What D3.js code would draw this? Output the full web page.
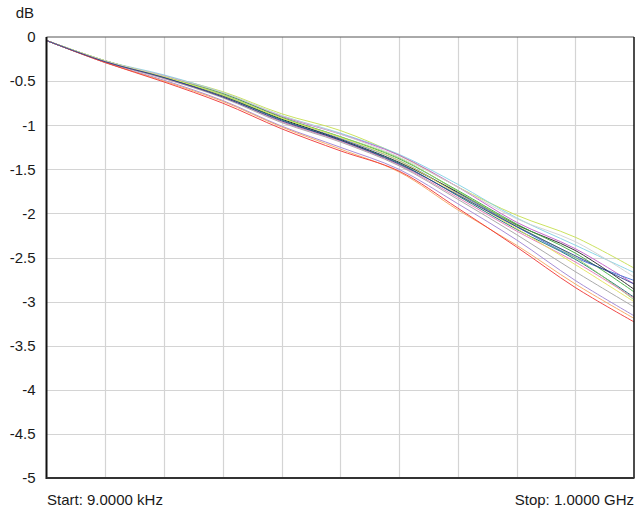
<!DOCTYPE html>
<html><head><meta charset="utf-8">
<script src="https://cdn.jsdelivr.net/npm/d3@7"></script>
<style>body{margin:0;background:#fff}svg{display:block}text{font-family:"Liberation Sans",Arial,sans-serif;font-size:15px;fill:#1a1a1a}</style>
</head><body><svg id="c" width="635" height="514"></svg>
<script>
const yTicks = [0,-0.5,-1,-1.5,-2,-2.5,-3,-3.5,-4,-4.5,-5];
const xDivs = [0,1,2,3,4,5,6,7,8,9,10];
const startLabel = "Start: 9.0000 kHz";
const stopLabel = "Stop: 1.0000 GHz";
const yUnit = "dB";
const seriesNames = ["yellowgreen","lightblue","magenta","blue","black","green","teal","lightgreen","pink","yellow","gray","lavender","orange","red","lightgray","navy"];
const seriesColors = ["#c5df4e","#7fd0e4","#c058c8","#3e6fd6","#222222","#3aa83a","#137070","#92d264","#e274b4","#e3e35a","#a2a2a2","#9c82d2","#f5a35e","#ee3434","#cfcfcf","#2c3d86"];
const sYellowGreen = [-0.04,-0.27,-0.44,-0.62,-0.87,-1.06,-1.34,-1.70,-2.02,-2.27,-2.62];
const sLightBlue   = [-0.04,-0.27,-0.43,-0.63,-0.89,-1.09,-1.33,-1.67,-2.05,-2.36,-2.67];
const sMagenta     = [-0.04,-0.28,-0.44,-0.64,-0.90,-1.10,-1.34,-1.70,-2.10,-2.40,-2.80];
const sBlue        = [-0.04,-0.28,-0.46,-0.66,-0.93,-1.15,-1.40,-1.77,-2.15,-2.50,-2.76];
const sBlack       = [-0.04,-0.28,-0.46,-0.67,-0.93,-1.16,-1.42,-1.76,-2.13,-2.42,-2.86];
const sGreen       = [-0.04,-0.27,-0.45,-0.64,-0.91,-1.13,-1.38,-1.74,-2.12,-2.45,-2.89];
const sTeal        = [-0.04,-0.28,-0.46,-0.67,-0.94,-1.17,-1.43,-1.80,-2.18,-2.52,-2.95];
const sLightGreen  = [-0.04,-0.27,-0.45,-0.65,-0.92,-1.13,-1.37,-1.75,-2.14,-2.50,-2.98];
const sPink        = [-0.04,-0.28,-0.47,-0.68,-0.96,-1.18,-1.45,-1.82,-2.20,-2.55,-2.96];
const sYellow      = [-0.04,-0.27,-0.45,-0.66,-0.92,-1.14,-1.40,-1.78,-2.17,-2.58,-3.00];
const sGray        = [-0.04,-0.28,-0.47,-0.69,-0.97,-1.19,-1.46,-1.84,-2.24,-2.66,-3.06];
const sLavender    = [-0.04,-0.29,-0.49,-0.72,-1.01,-1.25,-1.50,-1.89,-2.30,-2.76,-3.16];
const sOrange      = [-0.04,-0.29,-0.50,-0.73,-1.02,-1.27,-1.53,-1.96,-2.36,-2.80,-3.19];
const sRed         = [-0.04,-0.29,-0.51,-0.75,-1.04,-1.29,-1.52,-1.94,-2.38,-2.84,-3.23];
const sLightGray   = [-0.04,-0.27,-0.44,-0.63,-0.89,-1.10,-1.36,-1.70,-2.06,-2.32,-2.72];
const sNavy        = [-0.04,-0.28,-0.46,-0.68,-0.95,-1.17,-1.44,-1.79,-2.15,-2.48,-2.80];
const seriesValues = [sYellowGreen,sLightBlue,sMagenta,sBlue,sBlack,sGreen,sTeal,sLightGreen,sPink,sYellow,sGray,sLavender,sOrange,sRed,sLightGray,sNavy];

const L=46.5, R=634, T=37, B=478;
const svg = d3.select("#c");
const x = d3.scaleLinear().domain([0,10]).range([L,R]);
const y = d3.scaleLinear().domain([-5,0]).range([B,T]);

// grid
svg.append("g").selectAll("line").data(xDivs.slice(1,-1)).join("line")
  .attr("x1",d=>Math.round(x(d))+0.5).attr("x2",d=>Math.round(x(d))+0.5).attr("y1",T).attr("y2",B)
  .attr("stroke","#d4d4d4").attr("stroke-width",1.2);
svg.append("g").selectAll("line").data(yTicks.slice(1,-1)).join("line")
  .attr("y1",d=>Math.round(y(d))+0.5).attr("y2",d=>Math.round(y(d))+0.5).attr("x1",L).attr("x2",R)
  .attr("stroke","#d4d4d4").attr("stroke-width",1.2);

// y axis labels
const yAxis = d3.axisLeft(y).tickValues(yTicks).tickSize(0).tickPadding(11).tickFormat(d=>String(d));
const ga = svg.append("g").attr("transform",`translate(${L},0)`).call(yAxis);
ga.select(".domain").remove();
ga.selectAll("text").style("font-family","Liberation Sans, Arial, sans-serif").style("font-size","15px").attr("fill","#1a1a1a");

// lines
const line = d3.line().x((d,i)=>x(xDivs[i])).y(d=>y(d)).curve(d3.curveCatmullRom);
svg.append("g").selectAll("path").data(seriesValues).join("path")
  .attr("d",line).attr("fill","none")
  .attr("stroke",(d,i)=>seriesColors[i]).attr("stroke-width",1).attr("stroke-opacity",0.9);

// frame
svg.append("line").attr("x1",L).attr("x2",R).attr("y1",T).attr("y2",T).attr("stroke","#555").attr("stroke-width",1);
svg.append("line").attr("x1",R).attr("x2",R).attr("y1",T).attr("y2",B).attr("stroke","#111").attr("stroke-width",1.5);
svg.append("line").attr("x1",L).attr("x2",L).attr("y1",T).attr("y2",B+1).attr("stroke","#111").attr("stroke-width",2);
svg.append("line").attr("x1",L).attr("x2",R+0.5).attr("y1",B).attr("y2",B).attr("stroke","#333").attr("stroke-width",2);

svg.append("text").attr("x",34).attr("y",18).attr("text-anchor","end").text(yUnit);
svg.append("text").attr("x",47).attr("y",505).text(startLabel);
svg.append("text").attr("x",634).attr("y",505).attr("text-anchor","end").text(stopLabel);
</script></body></html>
